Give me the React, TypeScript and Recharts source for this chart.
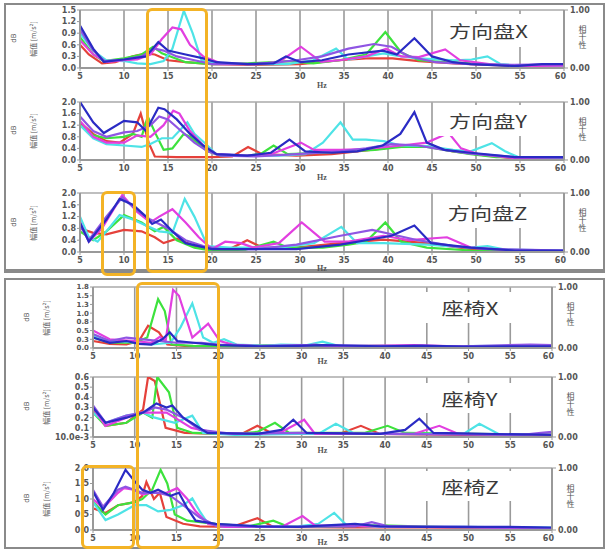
import React from 'react';
import { LineChart, Line, XAxis, YAxis, CartesianGrid, ReferenceLine } from 'recharts';

type Pt = [number, number];

const hzTicks = [5, 10, 15, 20, 25, 30, 35, 40, 45, 50, 55, 60];
const cohTicks = [0, 1];

// 方向盘X
const wheelXRed: Pt[] = [[5,0.6],[6,0.35],[7.5,0.12],[9,0.15],[11,0.3],[12.5,0.38],[13.5,0.35],[15,0.2],[17,0.15],[20,0.1],[25,0.08],[30,0.1],[34.5,0.2],[37.5,0.25],[40.5,0.25],[43.5,0.18],[47.5,0.12],[51.5,0.08],[55.5,0.05],[60,0.04]];
const wheelXGreen: Pt[] = [[5,0.8],[6.5,0.35],[7.7,0.18],[10,0.25],[12,0.35],[13.3,0.55],[14.3,0.38],[15.5,0.28],[17,0.15],[20,0.1],[24,0.12],[27,0.15],[28.6,0.18],[31.5,0.12],[34.5,0.2],[37.5,0.35],[39.7,0.93],[41.5,0.4],[43.5,0.2],[46.5,0.15],[49.5,0.12],[54.5,0.05],[60,0.05]];
const wheelXCyan: Pt[] = [[5,0.9],[6.5,0.45],[8,0.2],[10,0.18],[11.5,0.12],[13,0.1],[14.5,0.18],[15.5,0.5],[16.8,1.48],[17.8,0.9],[18.8,0.2],[21,0.12],[25,0.1],[28.6,0.1],[31.5,0.2],[34.1,0.5],[35.5,0.22],[37.5,0.3],[39.5,0.38],[41.5,0.3],[43.5,0.25],[47.5,0.2],[49.5,0.22],[51.3,0.3],[52.8,0.1],[55.5,0.05],[60,0.05]];
const wheelXMagenta: Pt[] = [[5,0.72],[6.5,0.35],[8,0.15],[10,0.2],[11.5,0.22],[13,0.35],[14.3,0.75],[15.5,1.05],[16.5,1.0],[17.5,0.6],[19,0.3],[21,0.12],[25,0.1],[27.6,0.15],[30.1,0.55],[32.4,0.16],[34.5,0.2],[37.5,0.3],[39.8,0.5],[41.5,0.3],[43.5,0.28],[46.5,0.48],[48.2,0.2],[51.5,0.1],[54.5,0.05],[60,0.06]];
const wheelXViolet: Pt[] = [[5,1.0],[6.5,0.45],[7.8,0.18],[10,0.22],[12,0.3],[13.5,0.5],[14.5,0.45],[16,0.3],[18,0.2],[20,0.1],[25,0.1],[27.6,0.15],[29.6,0.2],[32.5,0.3],[35.5,0.5],[38.4,0.62],[40.4,0.55],[42.4,0.3],[45.4,0.15],[49.4,0.1],[54.4,0.08],[60,0.1]];
const wheelXBlue: Pt[] = [[5,1.1],[6.5,0.5],[7.7,0.16],[10,0.22],[12.5,0.3],[13.9,0.67],[15,0.45],[17,0.35],[19,0.25],[20.5,0.15],[24,0.1],[27,0.12],[28.4,0.3],[30.1,0.15],[32.5,0.2],[35.5,0.35],[39.4,0.45],[41,0.35],[43,0.77],[45,0.3],[47.4,0.15],[49.4,0.1],[54.4,0.05],[57.5,0.1],[60,0.1]];

// 方向盘Y
const wheelYRed: Pt[] = [[5,1.3],[6.5,0.9],[8,0.65],[9.5,0.6],[11,0.9],[11.9,1.6],[12.8,0.6],[13.5,0.12],[16,0.1],[20,0.1],[22.3,0.12],[24.1,0.45],[25.7,0.2],[29.6,0.15],[33.6,0.2],[36.5,0.3],[39.5,0.4],[41.5,0.5],[44.4,0.48],[47.4,0.3],[51.3,0.15],[54.4,0.06],[60,0.05]];
const wheelYGreen: Pt[] = [[5,1.2],[6.5,0.85],[8,0.75],[10,0.8],[11,0.9],[12,0.8],[12.7,1.5],[13.6,0.9],[14.5,0.35],[15.5,0.4],[16.8,0.9],[17.5,0.8],[19.5,0.3],[21,0.15],[24,0.15],[25.5,0.2],[27,0.5],[28.6,0.2],[32.6,0.25],[35.5,0.3],[38.5,0.35],[41.5,0.45],[44.4,0.45],[47.4,0.3],[49.4,0.2],[52.3,0.1],[60,0.08]];
const wheelYCyan: Pt[] = [[5,1.2],[6.5,0.75],[8,0.55],[10,0.5],[12,0.45],[13,0.55],[14.3,0.75],[15.5,0.75],[17.2,1.3],[18,0.9],[19.3,0.55],[20.5,0.2],[24,0.15],[27.6,0.15],[30.6,0.2],[32.6,0.6],[34.6,1.3],[36,0.7],[37.5,0.7],[39.5,0.65],[41.5,0.5],[44.4,0.48],[47.4,0.35],[49.4,0.3],[51.8,0.58],[53.3,0.3],[54.8,0.1],[60,0.08]];
const wheelYMagenta: Pt[] = [[5,1.35],[6.5,0.8],[8,0.6],[10,0.6],[11.5,0.85],[13,0.8],[14.5,1.2],[15.6,1.7],[16.3,1.6],[17.5,1.0],[19,0.5],[20.5,0.2],[24,0.15],[26.7,0.2],[30.1,0.6],[31.6,0.35],[34.6,0.35],[37.5,0.38],[41.5,0.5],[44.4,0.6],[46.9,0.93],[48.3,0.4],[50.3,0.2],[54.4,0.06],[60,0.1]];
const wheelYViolet: Pt[] = [[5,1.5],[6.5,1.0],[8,0.8],[10,0.95],[11.5,1.0],[13,1.2],[14,1.5],[15,1.4],[16.5,1.0],[18,0.6],[19.5,0.3],[21,0.15],[25,0.12],[29.6,0.2],[34.6,0.3],[37.5,0.4],[40.4,0.55],[43.4,0.5],[46.4,0.35],[49.4,0.22],[54.4,0.1],[60,0.08]];
const wheelYBlue: Pt[] = [[5,2.0],[6.5,1.3],[7.7,0.93],[10,1.35],[11.5,1.3],[12.5,1.0],[13.9,1.8],[14.6,1.75],[16,1.4],[17.5,0.9],[19,0.5],[20.5,0.2],[24,0.15],[26.7,0.25],[28.8,0.7],[30.6,0.3],[33.6,0.25],[36.5,0.3],[39.4,0.5],[41.4,0.9],[43,1.65],[44.4,0.6],[46.4,0.35],[49.4,0.25],[54.4,0.1],[60,0.1]];

// 方向盘Z
const wheelZRed: Pt[] = [[5,0.8],[6.5,0.65],[8,0.6],[10,0.75],[12,0.7],[13.5,0.5],[14.5,0.3],[16,0.45],[18,0.2],[20,0.05],[22,0.1],[24,0.4],[25.7,0.15],[29.6,0.15],[34.6,0.3],[39.5,0.42],[44.4,0.3],[49.4,0.1],[54.4,0.04],[60,0.03]];
const wheelZGreen: Pt[] = [[5,0.7],[6.5,0.4],[8,0.7],[10,1.25],[12,1.0],[13.5,0.7],[14.5,0.85],[16,0.4],[18,0.15],[20,0.05],[23.8,0.08],[27,0.35],[28.6,0.15],[32.6,0.15],[35.5,0.25],[37.5,0.35],[39.7,1.0],[41.5,0.35],[44.4,0.15],[49.4,0.05],[60,0.03]];
const wheelZCyan: Pt[] = [[5,1.2],[6,0.5],[7,0.35],[8,0.7],[9.5,1.25],[11,1.1],[12.5,0.9],[14,0.7],[15.5,0.65],[16.9,1.8],[18,1.2],[19.5,0.2],[22,0.15],[27.6,0.15],[31.6,0.3],[34.7,0.85],[36.5,0.3],[39.5,0.3],[44.4,0.25],[49.4,0.15],[51.3,0.2],[53.3,0.08],[60,0.05]];
const wheelZMagenta: Pt[] = [[5,1.0],[6,0.35],[7.5,0.8],[9.8,1.93],[11.5,1.36],[13,1.0],[14,1.2],[15.5,1.45],[17,1.0],[18.5,0.5],[20,0.1],[21.5,0.35],[23.3,0.3],[24.7,0.15],[27.6,0.3],[30.2,1.0],[32.8,0.35],[35.5,0.35],[39.5,0.55],[42.4,0.4],[46.7,0.5],[49.4,0.15],[54.4,0.05],[60,0.04]];
const wheelZViolet: Pt[] = [[5,0.9],[6,0.4],[8,1.2],[9.8,1.85],[11.5,1.4],[13,1.1],[15,0.8],[17,0.4],[19,0.2],[21,0.1],[25,0.1],[29.6,0.25],[34.6,0.55],[38.2,0.75],[40.4,0.6],[43.4,0.4],[47.4,0.2],[51.3,0.1],[60,0.05]];
const wheelZBlue: Pt[] = [[5,1.0],[6,0.35],[8,1.1],[9.5,1.8],[11,1.6],[12.5,1.2],[13.2,0.95],[14.2,1.1],[15.5,0.7],[17,0.3],[20,0.1],[25,0.1],[29.6,0.1],[34.6,0.25],[38.5,0.45],[40.4,0.55],[43,0.9],[44.9,0.3],[49.4,0.15],[54.4,0.05],[60,0.05]];

// 座椅X
const seatXRed: Pt[] = [[5,0.2],[7,0.12],[9,0.1],[10.5,0.2],[11.6,0.64],[12.9,0.45],[13.9,0.1],[16,0.06],[20,0.05],[30,0.04],[40,0.04],[60,0.03]];
const seatXGreen: Pt[] = [[5,0.3],[7,0.15],[10,0.15],[11.5,0.3],[12.8,1.4],[13.6,1.06],[14.4,0.1],[17,0.06],[20,0.05],[27.5,0.08],[31.5,0.05],[39.5,0.06],[49.5,0.04],[60,0.04]];
const seatXCyan: Pt[] = [[5,0.35],[7,0.2],[9,0.18],[12,0.1],[14.3,0.15],[15.5,0.6],[16.9,1.28],[18.2,0.3],[19.4,0.15],[20.7,0.25],[22.2,0.1],[25.6,0.06],[27.5,0.1],[30.5,0.08],[32.5,0.18],[34.4,0.06],[44.4,0.05],[54.4,0.06],[60,0.05]];
const seatXMagenta: Pt[] = [[5,0.5],[7,0.25],[10,0.2],[12,0.15],[13,0.32],[13.7,0.2],[14.6,1.67],[15.3,1.5],[16.9,0.3],[18.8,0.7],[20.2,0.2],[21.7,0.1],[24.7,0.05],[29.6,0.04],[31.5,0.1],[33.5,0.04],[43.4,0.08],[49.4,0.04],[60,0.04]];
const seatXViolet: Pt[] = [[5,0.4],[7,0.2],[9,0.3],[11,0.25],[13,0.2],[15,0.15],[18,0.15],[20,0.1],[25,0.06],[29.6,0.08],[39.5,0.06],[49.4,0.05],[57.4,0.1],[60,0.08]];
const seatXBlue: Pt[] = [[5,0.3],[7,0.15],[9,0.2],[10.5,0.12],[12,0.1],[13.3,0.25],[14.2,0.45],[15.1,0.2],[17,0.15],[20,0.08],[25,0.05],[29.6,0.06],[32.5,0.08],[39.5,0.05],[44.4,0.07],[49.4,0.04],[60,0.05]];

// 座椅Y
const seatYRed: Pt[] = [[5,0.28],[6.5,0.12],[9,0.15],[11,0.28],[11.6,0.6],[12.4,0.56],[13.7,0.1],[16,0.05],[20,0.04],[22.8,0.04],[24.7,0.12],[26.6,0.04],[34.5,0.04],[37.1,0.12],[39.4,0.04],[49.4,0.03],[60,0.03]];
const seatYGreen: Pt[] = [[5,0.25],[6.5,0.12],[9,0.15],[11,0.25],[12.1,0.2],[12.7,0.6],[14.1,0.45],[15.1,0.1],[17,0.05],[22,0.04],[24.7,0.06],[26.8,0.15],[28.5,0.05],[37.5,0.05],[40.3,0.12],[42.4,0.05],[60,0.03]];
const seatYCyan: Pt[] = [[5,0.25],[6.5,0.15],[9,0.22],[11,0.25],[12.4,0.2],[14.8,0.15],[16.9,0.22],[18.2,0.05],[22,0.03],[29.6,0.04],[32,0.04],[34.1,0.14],[36.4,0.04],[49.4,0.04],[51.3,0.14],[53.6,0.04],[60,0.03]];
const seatYMagenta: Pt[] = [[5,0.3],[6.5,0.12],[9,0.2],[10.5,0.25],[12,0.25],[13.8,0.25],[14.8,0.2],[16.8,0.1],[19.7,0.05],[24.7,0.04],[27.6,0.06],[30.3,0.18],[31.6,0.04],[39.4,0.04],[43.4,0.04],[46.5,0.12],[48.8,0.04],[60,0.03]];
const seatYViolet: Pt[] = [[5,0.32],[6.5,0.15],[9,0.22],[11,0.25],[12.4,0.3],[13.8,0.28],[15.8,0.2],[17.8,0.08],[21.7,0.04],[29.6,0.05],[39.4,0.04],[56.4,0.03],[58.7,0.05],[60,0.06]];
const seatYBlue: Pt[] = [[5,0.3],[6.5,0.15],[9,0.2],[11,0.25],[11.9,0.3],[12.6,0.34],[13.8,0.3],[14.5,0.32],[15.8,0.2],[16.8,0.15],[18.7,0.05],[24.7,0.04],[27.6,0.08],[29,0.18],[30.6,0.05],[39.4,0.04],[42.4,0.08],[44.1,0.19],[45.8,0.05],[60,0.03]];

// 座椅Z
const seatZRed: Pt[] = [[5,0.7],[6.5,0.55],[8,0.8],[10,0.9],[10.9,1.1],[11.4,1.55],[12.3,1.0],[13,1.2],[13.8,0.42],[15.8,0.2],[17.8,0.12],[21.7,0.1],[24.7,0.38],[26.6,0.1],[34.5,0.08],[44.4,0.08],[60,0.05]];
const seatZGreen: Pt[] = [[5,0.9],[6.5,0.5],[8,0.8],[10,0.9],[10.9,1.0],[12.1,1.3],[13.1,1.94],[13.9,1.5],[14.8,0.5],[16.3,0.3],[19.7,0.2],[23.7,0.12],[26.6,0.3],[28.5,0.1],[34.5,0.12],[39.4,0.15],[49.4,0.08],[60,0.05]];
const seatZCyan: Pt[] = [[5,0.9],[6.5,0.32],[8,0.5],[10,0.8],[11.4,0.8],[12.8,0.6],[14.3,0.65],[15.8,0.8],[16.9,1.02],[17.8,0.6],[18.8,0.2],[20.7,0.1],[29.6,0.12],[32,0.2],[33.9,0.55],[35.4,0.15],[39.4,0.1],[49.4,0.1],[60,0.08]];
const seatZMagenta: Pt[] = [[5,1.0],[6.2,0.7],[8,1.2],[8.7,1.35],[9.9,1.3],[10.9,1.15],[11.9,1.2],[13.8,1.2],[15.1,1.35],[16.3,1.0],[17.3,0.6],[18.8,0.2],[20.7,0.1],[27.6,0.1],[30.1,0.45],[31.6,0.15],[39.4,0.12],[49.4,0.08],[60,0.05]];
const seatZViolet: Pt[] = [[5,1.3],[6.2,0.75],[8,1.3],[8.9,1.4],[10.9,1.2],[12.8,1.2],[14.3,1.1],[15.8,0.8],[17.8,0.4],[19.7,0.15],[24.7,0.1],[36.4,0.12],[38.4,0.25],[40.4,0.12],[49.4,0.1],[60,0.06]];
const seatZBlue: Pt[] = [[5,1.24],[6.2,0.65],[7.5,1.2],[8.9,1.94],[9.9,1.6],[10.9,1.3],[11.9,1.2],[12.8,1.3],[14.3,1.1],[15.3,1.2],[16.3,0.7],[17.3,0.3],[19.7,0.2],[24.7,0.12],[29.6,0.1],[36.4,0.2],[39.4,0.12],[44.4,0.1],[54.4,0.1],[60,0.08]];

const colors: Record<string, string> = {
  red: '#e5413b',
  green: '#3de23d',
  cyan: '#4ee3e6',
  magenta: '#e23fe0',
  violet: '#8f55e3',
  blue: '#2a2bc4',
};

const toPts = (a: Pt[]) => a.map(([hz, v]) => ({ hz, v }));

const tickStyle = { fontSize: 8, fill: '#555', fontFamily: 'DejaVu Sans', fontWeight: 'bold' as const };

function HzTick(props: any) {
  const { x, y, payload } = props;
  const last = payload.value === 60;
  return (
    <text x={last ? x + 2 : x} y={y + 6} textAnchor={last ? 'end' : 'middle'} {...tickStyle}>
      {payload.value}
    </text>
  );
}

type PlotProps = {
  top: number;
  bottom: number;
  left: number;
  right: number;
  domain: [number, number];
  ticks: number[];
  fmt: (v: number) => string;
  tickFont?: number;
  hzOffset: number;
  lines: Record<string, Pt[]>;
  title: string;
  box: { x: number; y: number; w: number; h: number };
  rightLabelX: number;
};

function Plot({ top, bottom, left, right, domain, ticks, fmt, tickFont = 8, hzOffset, lines, title, box, rightLabelX }: PlotProps) {
  const h = bottom - top;
  return (
    <>
      <div style={{ position: 'absolute', left: 0, top: top - 6 }}>
        <LineChart width={608} height={h + 6 + 24} margin={{ top: 6, right: 608 - right - 40, left: 0, bottom: 4 }}>
          <CartesianGrid yAxisId="l" horizontal={false} stroke="#9a9a9a" strokeWidth={1.6} />
          <XAxis
            type="number"
            dataKey="hz"
            domain={[5, 60]}
            ticks={hzTicks}
            interval={0}
            height={20}
            tickSize={3}
            tick={<HzTick />}
            axisLine={{ stroke: '#999', strokeWidth: 2 }}
            tickLine={{ stroke: '#999' }}
            label={{ value: 'Hz', position: 'insideBottom', offset: hzOffset, fontSize: 8, fill: '#555', fontWeight: 'bold' }}
          />
          <YAxis
            yAxisId="l"
            width={left}
            domain={domain}
            ticks={ticks}
            interval={0}
            tickFormatter={fmt}
            tickSize={3}
            tickMargin={1}
            tick={{ ...tickStyle, fontSize: tickFont }}
            axisLine={{ stroke: '#999', strokeWidth: 2 }}
            tickLine={{ stroke: '#999' }}
            allowDataOverflow
          />
          <YAxis
            yAxisId="r"
            orientation="right"
            width={40}
            type="number"
            domain={[0, 1]}
            ticks={cohTicks}
            interval={0}
            tickFormatter={(v: number) => v.toFixed(2)}
            tickSize={4}
            tickMargin={2}
            tick={tickStyle}
            axisLine={{ stroke: '#999', strokeWidth: 2 }}
            tickLine={{ stroke: '#999' }}
          />
          <ReferenceLine yAxisId="r" y={1} stroke="#aaa" strokeWidth={1.5} ifOverflow="extendDomain" />
          <ReferenceLine yAxisId="r" y={0} stroke="#999" strokeWidth={1} ifOverflow="extendDomain" />
          {['red', 'green', 'cyan', 'magenta', 'violet', 'blue'].map((k) => (
            <Line
              key={k}
              yAxisId="l"
              data={toPts(lines[k])}
              dataKey="v"
              stroke={colors[k]}
              strokeWidth={2.2}
              dot={false}
              isAnimationActive={false}
            />
          ))}
        </LineChart>
      </div>
      <div
        style={{
          position: 'absolute',
          left: box.x,
          top: box.y,
          width: box.w,
          height: box.h,
          background: '#fff',
          display: 'flex',
          alignItems: 'center',
          justifyContent: 'center',
        }}
      >
        <span
          style={{
            fontFamily: '"Noto Sans CJK SC"',
            fontSize: 17,
            color: '#3a3a3a',
            display: 'inline-block',
            transform: 'scaleX(1.3)',
            whiteSpace: 'nowrap',
          }}
        >
          {title}
        </span>
      </div>
      <div
        style={{
          position: 'absolute',
          left: left - 77,
          top: (top + bottom) / 2 - 5,
          width: 60,
          textAlign: 'center',
          transform: 'rotate(-90deg)',
          fontSize: 7,
          fontFamily: '"Noto Sans CJK SC"',
          color: '#555',
          whiteSpace: 'nowrap',
        }}
      >
        幅值 [m/s²]
      </div>
      <div
        style={{
          position: 'absolute',
          left: left - 76,
          top: top + h * 0.42,
          width: 20,
          textAlign: 'center',
          transform: 'rotate(-90deg)',
          fontSize: 7,
          fontFamily: 'DejaVu Sans',
          color: '#555',
        }}
      >
        dB
      </div>
      <div
        style={{
          position: 'absolute',
          left: rightLabelX,
          top: top + h * 0.25,
          fontSize: 8,
          fontFamily: '"Noto Sans CJK SC"',
          color: '#555',
          writingMode: 'vertical-rl',
        }}
      >
        相干性
      </div>
    </>
  );
}

const orangeBox = (x: number, y: number, w: number, h: number) => (
  <div
    style={{
      position: 'absolute',
      left: x,
      top: y,
      width: w,
      height: h,
      border: '3px solid #f3b326',
      borderRadius: 6,
      boxSizing: 'border-box',
      pointerEvents: 'none',
    }}
  />
);

export default function App() {
  const one = (v: number) => v.toFixed(1);
  return (
    <div style={{ position: 'absolute', left: 0, top: 0, width: 608, height: 550, background: '#fff', overflow: 'hidden' }}>
      <div style={{ position: 'absolute', left: 4, top: 3, width: 601, height: 270, border: '2px solid #8a8a8a', borderBottomWidth: 4, boxSizing: 'border-box' }} />
      <div style={{ position: 'absolute', left: 4, top: 278, width: 601, height: 271, border: '2px solid #8a8a8a', boxSizing: 'border-box' }} />

      <Plot
        top={10} bottom={68} left={80} right={564}
        domain={[0, 1.5]} ticks={[0, 0.3, 0.6, 0.9, 1.2, 1.5]} fmt={one} hzOffset={0}
        lines={{ red: wheelXRed, green: wheelXGreen, cyan: wheelXCyan, magenta: wheelXMagenta, violet: wheelXViolet, blue: wheelXBlue }}
        title="方向盘X" box={{ x: 436, y: 14, w: 104, h: 33 }} rightLabelX={577}
      />
      <Plot
        top={102} bottom={160} left={80} right={564}
        domain={[0, 2]} ticks={[0, 0.4, 0.8, 1.2, 1.6, 2.0]} fmt={one} hzOffset={0}
        lines={{ red: wheelYRed, green: wheelYGreen, cyan: wheelYCyan, magenta: wheelYMagenta, violet: wheelYViolet, blue: wheelYBlue }}
        title="方向盘Y" box={{ x: 436, y: 105, w: 104, h: 31 }} rightLabelX={577}
      />
      <Plot
        top={193} bottom={252} left={80} right={564}
        domain={[0, 2]} ticks={[0, 0.4, 0.8, 1.2, 1.6, 2.0]} fmt={one} hzOffset={1}
        lines={{ red: wheelZRed, green: wheelZGreen, cyan: wheelZCyan, magenta: wheelZMagenta, violet: wheelZViolet, blue: wheelZBlue }}
        title="方向盘Z" box={{ x: 436, y: 197, w: 104, h: 31 }} rightLabelX={577}
      />
      <Plot
        top={287} bottom={348} left={93} right={552}
        domain={[0, 1.75]} ticks={[0, 0.25, 0.5, 0.75, 1.0, 1.25, 1.5, 1.75]} fmt={one} tickFont={7} hzOffset={4}
        lines={{ red: seatXRed, green: seatXGreen, cyan: seatXCyan, magenta: seatXMagenta, violet: seatXViolet, blue: seatXBlue }}
        title="座椅X" box={{ x: 420, y: 292, w: 100, h: 31 }} rightLabelX={565}
      />
      <Plot
        top={377} bottom={437} left={93} right={552}
        domain={[0.01, 0.6]} ticks={[0.01, 0.1, 0.2, 0.3, 0.4, 0.5, 0.6]}
        fmt={(v: number) => (v === 0.01 ? '10.0e-3' : v.toFixed(1))} hzOffset={4}
        lines={{ red: seatYRed, green: seatYGreen, cyan: seatYCyan, magenta: seatYMagenta, violet: seatYViolet, blue: seatYBlue }}
        title="座椅Y" box={{ x: 420, y: 383, w: 100, h: 30 }} rightLabelX={565}
      />
      <Plot
        top={468} bottom={530} left={93} right={552}
        domain={[0, 2]} ticks={[0, 0.5, 1.0, 1.5, 2.0]} fmt={one} hzOffset={5}
        lines={{ red: seatZRed, green: seatZGreen, cyan: seatZCyan, magenta: seatZMagenta, violet: seatZViolet, blue: seatZBlue }}
        title="座椅Z" box={{ x: 420, y: 471, w: 100, h: 30 }} rightLabelX={565}
      />

      {orangeBox(146, 8, 62, 265)}
      {orangeBox(101, 191, 35, 85)}
      {orangeBox(136, 282, 84, 267)}
      {orangeBox(81, 465, 54, 84)}
    </div>
  );
}
